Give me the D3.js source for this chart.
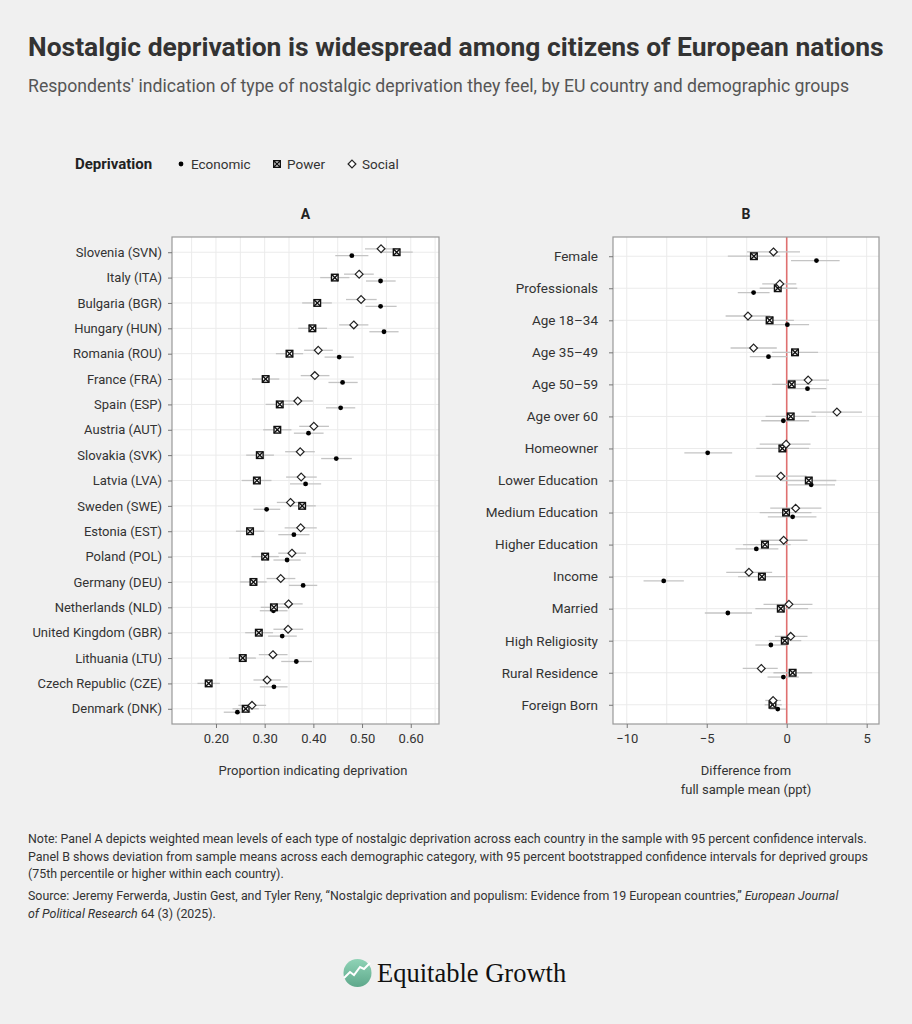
<!DOCTYPE html>
<html>
<head>
<meta charset="utf-8">
<script src="https://cdn.jsdelivr.net/npm/d3@7"></script>
<style>
  body { margin: 0; background: #f0f0f0; }
  svg { display: block; }
  text { font-family: Roboto, "Open Sans", sans-serif; fill: #333; }
</style>
</head>
<body>
<div id="chart"></div>
<script>
// Panel A: country means with 95% CI
const countries = ["Slovenia (SVN)", "Italy (ITA)", "Bulgaria (BGR)", "Hungary (HUN)", "Romania (ROU)",
  "France (FRA)", "Spain (ESP)", "Austria (AUT)", "Slovakia (SVK)", "Latvia (LVA)", "Sweden (SWE)",
  "Estonia (EST)", "Poland (POL)", "Germany (DEU)", "Netherlands (NLD)", "United Kingdom (GBR)",
  "Lithuania (LTU)", "Czech Republic (CZE)", "Denmark (DNK)"];
const aEconomic   = [0.479, 0.538, 0.538, 0.545, 0.453, 0.460, 0.456, 0.390, 0.447, 0.384, 0.304, 0.360, 0.346, 0.379, 0.318, 0.336, 0.365, 0.319, 0.244];
const aEconomicLo = [0.445, 0.508, 0.507, 0.515, 0.423, 0.431, 0.426, 0.360, 0.416, 0.352, 0.277, 0.328, 0.318, 0.350, 0.290, 0.307, 0.334, 0.290, 0.216];
const aEconomicHi = [0.513, 0.569, 0.571, 0.575, 0.483, 0.491, 0.486, 0.421, 0.479, 0.416, 0.332, 0.392, 0.374, 0.408, 0.347, 0.366, 0.397, 0.347, 0.271];
const aPower      = [0.571, 0.444, 0.408, 0.398, 0.351, 0.302, 0.331, 0.326, 0.290, 0.284, 0.377, 0.270, 0.301, 0.277, 0.319, 0.288, 0.255, 0.185, 0.261];
const aPowerLo    = [0.537, 0.414, 0.377, 0.369, 0.323, 0.274, 0.302, 0.297, 0.262, 0.253, 0.349, 0.241, 0.273, 0.249, 0.292, 0.260, 0.227, 0.162, 0.234];
const aPowerHi    = [0.604, 0.474, 0.438, 0.428, 0.379, 0.330, 0.360, 0.355, 0.319, 0.314, 0.405, 0.299, 0.329, 0.304, 0.347, 0.317, 0.282, 0.208, 0.288];
const aSocial     = [0.539, 0.494, 0.498, 0.483, 0.410, 0.403, 0.368, 0.401, 0.373, 0.375, 0.353, 0.374, 0.356, 0.333, 0.349, 0.348, 0.317, 0.305, 0.274];
const aSocialLo   = [0.506, 0.463, 0.467, 0.453, 0.381, 0.374, 0.338, 0.371, 0.342, 0.344, 0.325, 0.341, 0.328, 0.304, 0.320, 0.318, 0.288, 0.277, 0.246];
const aSocialHi   = [0.571, 0.524, 0.530, 0.513, 0.440, 0.433, 0.399, 0.432, 0.403, 0.407, 0.384, 0.407, 0.385, 0.363, 0.378, 0.379, 0.347, 0.333, 0.303];
const aTicks = [0.2, 0.3, 0.4, 0.5, 0.6];

// Panel B: difference from sample mean (ppt)
const groups = ["Female", "Professionals", "Age 18–34", "Age 35–49", "Age 50–59", "Age over 60", "Homeowner",
  "Lower Education", "Medium Education", "Higher Education", "Income", "Married", "High Religiosity",
  "Rural Residence", "Foreign Born"];
const bEconomic   = [1.86, -2.07, 0.04, -1.14, 1.30, -0.21, -4.94, 1.53, 0.37, -1.90, -7.69, -3.68, -0.99, -0.21, -0.56];
const bEconomicLo = [0.27, -3.06, -1.32, -2.31, 0.10, -1.59, -6.40, 0.00, -1.18, -3.20, -8.95, -5.12, -1.96, -1.20, -1.07];
const bEconomicHi = [3.31, -1.07, 1.40, 0.04, 2.48, 1.40, -3.41, 3.02, 1.86, -0.52, -6.43, -2.17, 0.00, 0.76, -0.04];
const bPower      = [-2.05, -0.56, -1.07, 0.52, 0.31, 0.25, -0.27, 1.38, -0.04, -1.36, -1.55, -0.37, -0.12, 0.37, -0.89];
const bPowerLo    = [-3.68, -1.69, -2.54, -0.91, -0.91, -1.32, -1.90, -0.31, -1.69, -2.73, -3.04, -1.96, -1.12, -0.83, -1.38];
const bPowerHi    = [-0.41, 0.66, 0.45, 1.96, 1.55, 1.82, 1.40, 3.10, 1.55, 0.25, -0.10, 1.34, 0.91, 1.59, -0.31];
const bSocial     = [-0.83, -0.43, -2.42, -2.07, 1.34, 3.14, -0.04, -0.37, 0.56, -0.19, -2.36, 0.14, 0.25, -1.59, -0.85];
const bSocialLo   = [-2.48, -1.53, -3.82, -3.51, 0.04, 1.55, -1.69, -1.96, -1.03, -1.65, -3.78, -1.45, -0.74, -2.75, -1.34];
const bSocialHi   = [0.83, 0.60, -1.03, -0.62, 2.64, 4.71, 1.49, 1.24, 2.17, 1.30, -0.91, 1.61, 1.30, -0.56, -0.35];
const bTicks = [-10, -5, 0, 5];

const seriesNames = ["Economic", "Power", "Social"];

const W = 912, H = 1024;
const svg = d3.select("#chart").append("svg").attr("width", W).attr("height", H);
svg.append("rect").attr("width", W).attr("height", H).attr("fill", "#f0f0f0");

// fit a text to a given width by changing its font size
function fitWidth(sel, width) {
  const len = sel.node().getComputedTextLength();
  const fs = parseFloat(sel.attr("font-size"));
  sel.attr("font-size", fs * width / len);
}

const title = svg.append("text").attr("x", 28).attr("y", 56)
  .attr("font-size", 24).attr("font-weight", 700).style("fill", "#333")
  .text("Nostalgic deprivation is widespread among citizens of European nations");
fitWidth(title, 856);

const sub = svg.append("text").attr("x", 28).attr("y", 92)
  .attr("font-size", 16).style("fill", "#555")
  .text("Respondents' indication of type of nostalgic deprivation they feel, by EU country and demographic groups");
fitWidth(sub, 822);

// marker drawing
function drawMarker(g, name, x, y) {
  if (name === "Economic") {
    g.append("circle").attr("cx", x).attr("cy", y).attr("r", 2.4).attr("fill", "#000");
  } else if (name === "Power") {
    const s = 3.3;
    g.append("rect").attr("x", x - s).attr("y", y - s).attr("width", 2 * s).attr("height", 2 * s)
      .attr("fill", "#fff").attr("stroke", "#111").attr("stroke-width", 1.4);
    g.append("path").attr("d", `M${x - s},${y - s}L${x + s},${y + s}M${x + s},${y - s}L${x - s},${y + s}`)
      .attr("stroke", "#111").attr("stroke-width", 1.4);
  } else {
    const s = 3.9;
    g.append("path").attr("d", `M${x},${y - s}L${x + s},${y}L${x},${y + s}L${x - s},${y}Z`)
      .attr("fill", "#fff").attr("stroke", "#222").attr("stroke-width", 1.2);
  }
}

// legend
const leg = svg.append("g");
leg.append("text").attr("x", 75).attr("y", 169).attr("font-size", 15).attr("font-weight", 700)
  .style("fill", "#222").text("Deprivation");
const legX = [181, 277, 352];
seriesNames.forEach((n, i) => {
  drawMarker(leg, n, legX[i], 164);
  leg.append("text").attr("x", legX[i] + 10).attr("y", 168.5).attr("font-size", 13.5).text(n);
});

const plotTop = 237, plotBottom = 724;

function panel(opt) {
  const g = svg.append("g");
  const x = d3.scaleLinear().domain(opt.xDomain).range([opt.left, opt.right]);
  const y = d3.scalePoint().domain(opt.cats).range([plotTop, plotBottom]).padding(0.6);
  const off = y.step() * 0.135;

  g.append("rect").attr("x", opt.left).attr("y", plotTop).attr("width", opt.right - opt.left)
    .attr("height", plotBottom - plotTop).attr("fill", "#fff");

  g.selectAll(".vg").data(opt.grid).enter().append("line")
    .attr("x1", d => x(d)).attr("x2", d => x(d)).attr("y1", plotTop).attr("y2", plotBottom)
    .attr("stroke", "#ebebeb").attr("stroke-width", 1);
  g.selectAll(".hg").data(opt.cats).enter().append("line")
    .attr("x1", opt.left).attr("x2", opt.right).attr("y1", d => y(d)).attr("y2", d => y(d))
    .attr("stroke", "#ebebeb").attr("stroke-width", 1);

  if (opt.zeroLine) {
    g.append("line").attr("x1", x(0)).attr("x2", x(0)).attr("y1", plotTop).attr("y2", plotBottom)
      .attr("stroke", "#e07070").attr("stroke-width", 1.6);
  }

  // error bars then markers, series order: Social top, Power middle, Economic bottom
  const dodge = { Economic: 1, Power: 0, Social: -1 };
  opt.series.forEach(s => {
    g.selectAll(null).data(opt.cats).enter().append("line")
      .attr("x1", (d, i) => x(s.lo[i])).attr("x2", (d, i) => x(s.hi[i]))
      .attr("y1", d => y(d) + dodge[s.name] * off).attr("y2", d => y(d) + dodge[s.name] * off)
      .attr("stroke", "#c4c4c4").attr("stroke-width", 1.3);
  });
  opt.series.forEach(s => {
    opt.cats.forEach((c, i) => drawMarker(g, s.name, x(s.val[i]), y(c) + dodge[s.name] * off));
  });

  g.append("rect").attr("x", opt.left).attr("y", plotTop).attr("width", opt.right - opt.left)
    .attr("height", plotBottom - plotTop).attr("fill", "none").attr("stroke", "#999").attr("stroke-width", 1.2);

  const xa = g.append("g").attr("transform", `translate(0,${plotBottom})`)
    .call(d3.axisBottom(x).tickValues(opt.ticks).tickFormat(opt.fmt).tickSize(4).tickPadding(6));
  xa.select(".domain").remove();
  xa.selectAll("line").attr("stroke", "#777");
  xa.selectAll("text").attr("font-size", 13).style("fill", "#333").attr("font-family", null);

  const ya = g.append("g").attr("transform", `translate(${opt.left},0)`)
    .call(d3.axisLeft(y).tickSize(4).tickPadding(opt.yPad));
  ya.select(".domain").remove();
  ya.selectAll("line").attr("stroke", "#777");
  ya.selectAll("text").attr("font-size", opt.yFont).style("fill", "#333").attr("font-family", null);

  g.append("text").attr("x", (opt.left + opt.right) / 2).attr("y", 219).attr("text-anchor", "middle")
    .attr("font-size", 14).attr("font-weight", 700).style("fill", "#222").text(opt.label);

  opt.xTitle.forEach((t, i) => {
    g.append("text").attr("x", opt.titleX).attr("y", 775 + i * 19).attr("text-anchor", "middle")
      .attr("font-size", 13).text(t);
  });
}

panel({
  label: "A", left: 172, right: 439, xDomain: [0.1097, 0.658], cats: countries,
  grid: d3.range(0.15, 0.66, 0.05), ticks: aTicks, fmt: d3.format(".2f"), zeroLine: false,
  yPad: 6, yFont: 13,
  titleX: 313, xTitle: ["Proportion indicating deprivation"],
  series: [
    { name: "Economic", val: aEconomic, lo: aEconomicLo, hi: aEconomicHi },
    { name: "Power", val: aPower, lo: aPowerLo, hi: aPowerHi },
    { name: "Social", val: aSocial, lo: aSocialLo, hi: aSocialHi }
  ]
});

panel({
  label: "B", left: 613, right: 879, xDomain: [-10.86, 5.77], cats: groups,
  grid: d3.range(-10, 5.1, 2.5), ticks: bTicks, fmt: d3.format("d"), zeroLine: true,
  yPad: 11, yFont: 13.5,
  titleX: 746, xTitle: ["Difference from", "full sample mean (ppt)"],
  series: [
    { name: "Economic", val: bEconomic, lo: bEconomicLo, hi: bEconomicHi },
    { name: "Power", val: bPower, lo: bPowerLo, hi: bPowerHi },
    { name: "Social", val: bSocial, lo: bSocialLo, hi: bSocialHi }
  ]
});

// notes
const notes = svg.append("g");
const n1 = notes.append("text").attr("x", 28).attr("y", 843).attr("font-size", 12.5)
  .text("Note: Panel A depicts weighted mean levels of each type of nostalgic deprivation across each country in the sample with 95 percent confidence intervals.");
fitWidth(n1, 840);
const n2 = notes.append("text").attr("x", 28).attr("y", 860.5).attr("font-size", 12.5)
  .text("Panel B shows deviation from sample means across each demographic category, with 95 percent bootstrapped confidence intervals for deprived groups");
fitWidth(n2, 840);
const fs = parseFloat(n1.attr("font-size"));
notes.append("text").attr("x", 28).attr("y", 878).attr("font-size", fs)
  .text("(75th percentile or higher within each country).");
const s1 = notes.append("text").attr("x", 28).attr("y", 900).attr("font-size", fs);
s1.append("tspan").text("Source: Jeremy Ferwerda, Justin Gest, and Tyler Reny, “Nostalgic deprivation and populism: Evidence from 19 European countries,” ");
s1.append("tspan").attr("font-style", "italic").text("European Journal");
const s2 = notes.append("text").attr("x", 28).attr("y", 917.5).attr("font-size", fs);
s2.append("tspan").attr("font-style", "italic").text("of Political Research");
s2.append("tspan").text("  64 (3) (2025).");

// logo
const defs = svg.append("defs");
const grad = defs.append("linearGradient").attr("id", "lg").attr("x1", 0).attr("y1", 0).attr("x2", 0).attr("y2", 1);
grad.append("stop").attr("offset", 0).attr("stop-color", "#8fd3b6");
grad.append("stop").attr("offset", 1).attr("stop-color", "#5ea88b");
const logo = svg.append("g");
logo.append("circle").attr("cx", 357.5).attr("cy", 973).attr("r", 14).attr("fill", "url(#lg)");
logo.append("path").attr("d", "M344,978L350,972L354,975L360,967L364,969L370,963")
  .attr("fill", "none").attr("stroke", "#fff").attr("stroke-width", 2);
logo.append("text").attr("x", 377).attr("y", 981.5)
  .attr("font-size", 26.5).style("fill", "#111").style("font-family", "'Liberation Serif', serif")
  .text("Equitable Growth");
</script>
</body>
</html>
